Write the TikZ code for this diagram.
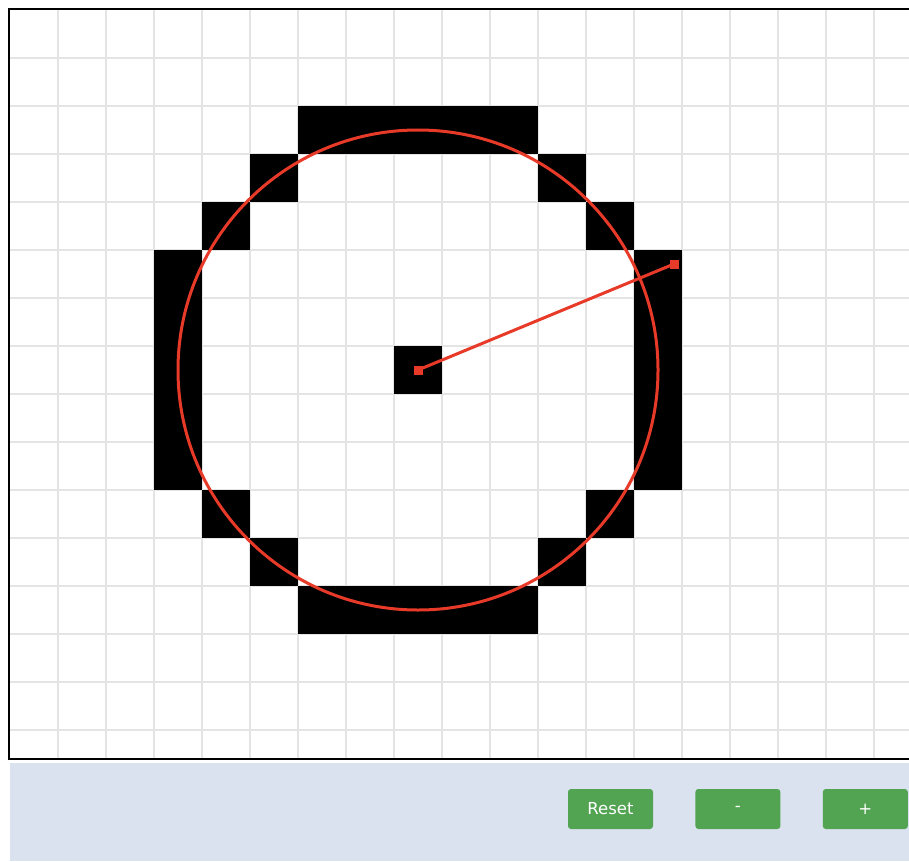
\documentclass[tikz,border=0pt]{standalone}
\usepackage{fontspec}
\setmainfont{DejaVu Sans}
\usetikzlibrary{positioning}
\definecolor{gridgray}{RGB}{228,228,228}
\definecolor{panelblue}{RGB}{217,226,238}
\definecolor{btngreen}{RGB}{82,163,82}
\definecolor{markred}{RGB}{232,58,40}

\begin{document}
\begin{tikzpicture}[x=1pt, y=-1pt,
    pixel/.style={fill=black},
    btn/.style={fill=btngreen, rounded corners=3pt, minimum width=85pt, minimum height=40pt, inner sep=0pt, text=white, font=\fontsize{16.5}{19}\selectfont},
    handle/.style={fill=markred, minimum size=9pt, inner sep=0pt}]
  \useasboundingbox (0,0) rectangle (909,861);
  % drawing canvas
  \fill[white] (9,9) rectangle (909,759);
  \foreach \gx in {58,106,...,874} \draw[gridgray, line width=2pt] (\gx,10) -- (\gx,758);
  \foreach \gy in {58,106,...,730} \draw[gridgray, line width=2pt] (10,\gy) -- (909,\gy);
  % rasterised circle
  \foreach \c/\r in {6/2,7/2,8/2,9/2,10/2, 5/3,11/3, 4/4,12/4,
      3/5,3/6,3/7,3/8,3/9, 13/5,13/6,13/7,13/8,13/9,
      4/10,12/10, 5/11,11/11, 6/12,7/12,8/12,9/12,10/12, 8/7}
    \fill[pixel] (10+48*\c, 10+48*\r) rectangle ++(48,48);
  \draw[line width=2pt] (909,9) -- (9,9) -- (9,759) -- (909,759);
  % ideal circle and radius handle
  \node[handle] (ctr) at (418,370) {};
  \node[handle] (hdl) at (674,264) {};
  \draw[markred, line width=3pt] (ctr.center) circle[radius=240pt];
  \draw[markred, line width=3pt] (ctr.center) -- (hdl.center);
  % controls
  \fill[panelblue] (10,763) rectangle (909,861);
  \node[btn] (reset) at (610.5,809) {Reset};
  \node[btn, right=42pt of reset] (minus) {-};
  \node[btn, right=42pt of minus] (plus) {+};
\end{tikzpicture}
\end{document}
